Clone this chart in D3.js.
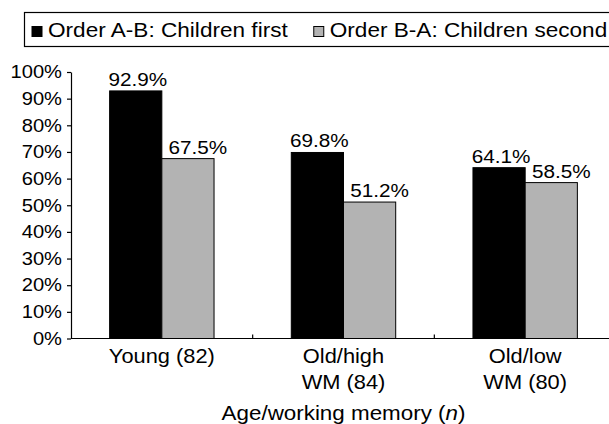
<!DOCTYPE html>
<html>
<head>
<meta charset="utf-8">
<script src="https://cdn.jsdelivr.net/npm/d3@7"></script>
<style>
  body { margin: 0; background: #fff; }
  text { font-family: "Liberation Sans", Arial, sans-serif; fill: #000; }
</style>
</head>
<body>
<script>
var categories = ["Young (82)", "Old/high\nWM (84)", "Old/low\nWM (80)"]
var seriesNames = ["Order A-B: Children first", "Order B-A: Children second"]
var orderAB = [92.9, 69.8, 64.1]
var orderBA = [67.5, 51.2, 58.5]
var yTicks = [0, 10, 20, 30, 40, 50, 60, 70, 80, 90, 100]

var colors = ["#000000", "#b3b3b3"]
var labelShift = [2, 10]   // value labels sit a bit right of bar centre
var stretch = 1.12         // the reference text is a little wide

var width = 609, height = 424

var svg = d3.select("body").append("svg")
            .attr("width", width)
            .attr("height", height)

var rows = categories.map(function(c, i) {
  return {cat: c, vals: [orderAB[i], orderBA[i]]}
})

var x = d3.scaleBand().domain(categories).range([71, 616]).padding(0)
var xSub = d3.scaleBand().domain([0, 1]).range([0, x.bandwidth()])
             .paddingInner(0).paddingOuter(0.74)
var y = d3.scaleLinear().domain([0, 100]).range([338.5, 72])

// y axis
var yAxis = svg.append("g")
               .attr("transform", "translate(71,0)")
               .call(d3.axisLeft(y).tickValues(yTicks)
                       .tickFormat(function(d) { return d + "%" })
                       .tickSize(4).tickSizeOuter(0).tickPadding(4))
yAxis.selectAll("path, line").attr("stroke", "#000").attr("stroke-width", 1.2)
yAxis.selectAll("text")
     .style("font-size", "18px")
     .attr("transform", "scale(" + stretch + ",1)")

// bars
var groups = svg.selectAll(".grp")
                .data(rows)
                .enter()
                  .append("g")
                  .attr("class", "grp")
                  .attr("transform", function(d) { return "translate(" + x(d.cat) + ",0)" })

groups.selectAll("rect")
      .data(function(d) { return d.vals })
      .enter()
        .append("rect")
        .attr("x", function(d, i) { return xSub(i) })
        .attr("y", function(d) { return y(d) })
        .attr("width", xSub.bandwidth())
        .attr("height", function(d) { return y(0) - y(d) })
        .attr("fill", function(d, i) { return colors[i] })
        .attr("stroke", "#000")
        .attr("stroke-width", 1)

groups.selectAll(".val")
      .data(function(d) { return d.vals })
      .enter()
        .append("text")
        .attr("class", "val")
        .attr("text-anchor", "middle")
        .style("font-size", "18.5px")
        .attr("transform", function(d, i) {
          var cx = xSub(i) + xSub.bandwidth() / 2 + labelShift[i]
          return "translate(" + cx + "," + (y(d) - 5) + ") scale(" + stretch + ",1)"
        })
        .text(function(d) { return d3.format(".1f")(d) + "%" })

// x axis baseline + separator ticks pointing up
svg.append("line")
   .attr("x1", 71).attr("x2", 616)
   .attr("y1", y(0)).attr("y2", y(0))
   .attr("stroke", "#000").attr("stroke-width", 1.2)

svg.selectAll(".sep")
   .data(categories.slice(1))
   .enter()
     .append("line")
     .attr("class", "sep")
     .attr("x1", function(d) { return x(d) })
     .attr("x2", function(d) { return x(d) })
     .attr("y1", y(0)).attr("y2", y(0) - 4)
     .attr("stroke", "#000").attr("stroke-width", 1.2)

// category labels
var catLabels = svg.selectAll(".cat")
                   .data(categories)
                   .enter()
                     .append("text")
                     .attr("class", "cat")
                     .attr("text-anchor", "middle")
                     .style("font-size", "19.5px")
                     .attr("transform", function(d) {
                       return "translate(" + (x(d) + x.bandwidth() / 2) + ",363) scale(" + stretch + ",1)"
                     })

catLabels.selectAll("tspan")
         .data(function(d) { return d.split("\n") })
         .enter()
           .append("tspan")
           .attr("x", 0)
           .attr("y", function(d, i) { return i * 26 })
           .text(function(d) { return d })

// axis title
var title = svg.append("text")
               .attr("text-anchor", "middle")
               .style("font-size", "20px")
               .attr("transform", "translate(" + ((71 + 616) / 2) + ",420) scale(" + stretch + ",1)")
title.append("tspan").text("Age/working memory (")
title.append("tspan").style("font-style", "italic").text("n")
title.append("tspan").text(")")

// legend
svg.append("rect")
   .attr("x", 24.5).attr("y", 12.5)
   .attr("width", 620).attr("height", 34)
   .attr("fill", "none")
   .attr("stroke", "#000").attr("stroke-width", 1.2)

var lx = 32
seriesNames.forEach(function(name, i) {
  svg.append("rect")
     .attr("x", lx).attr("y", 26.5)
     .attr("width", 10).attr("height", 10)
     .attr("fill", colors[i])
     .attr("stroke", "#000").attr("stroke-width", 1)
  var t = svg.append("text")
             .style("font-size", "20px")
             .attr("transform", "translate(" + (lx + 16) + ",36.5) scale(1.13,1)")
             .text(name)
  lx = lx + 16 + t.node().getComputedTextLength() * 1.13 + 26
})
</script>
</body>
</html>
